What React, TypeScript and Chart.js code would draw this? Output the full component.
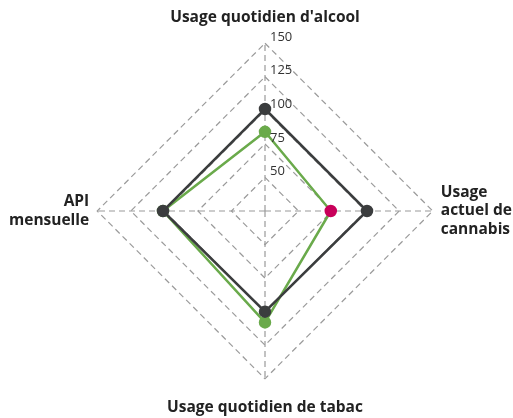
import React, { useEffect, useRef } from "react";
import { Chart, registerables } from "chart.js";

Chart.register(...registerables);

const categories: (string | string[])[] = [
  "Usage quotidien d'alcool",
  ["Usage", "actuel de", "cannabis"],
  "Usage quotidien de tabac",
  ["API", "mensuelle"],
];
const referenceValues = [101, 101, 100, 101];
const countryValues = [84, 74, 108, 101];
const countryPointColors = ["#6aaa4b", "#c8005a", "#6aaa4b", "#6aaa4b"];
const scaleMin = 25;
const scaleMax = 150;
const scaleStep = 25;

const tickLabelPlugin = {
  id: "tickLabelsRight",
  afterDraw(chart: any) {
    const scale = chart.scales.r;
    const ctx = chart.ctx;
    ctx.save();
    ctx.font = "13px 'Open Sans'";
    ctx.fillStyle = "#333";
    ctx.textAlign = "left";
    ctx.textBaseline = "middle";
    scale.ticks.forEach((t: any, i: number) => {
      if (i === 0) return;
      const d = scale.getDistanceFromCenterForValue(t.value);
      ctx.fillText(String(t.value), scale.xCenter + 5, scale.yCenter - d - 6);
    });
    ctx.restore();
  },
};

export default function App() {
  const ref = useRef<HTMLCanvasElement>(null);
  useEffect(() => {
    document.body.style.margin = "0";
    const chart = new Chart(ref.current!, {
      type: "radar",
      data: {
        labels: categories as any,
        datasets: [
          {
            label: "Référence",
            data: referenceValues,
            borderColor: "#3b3d3e",
            backgroundColor: "transparent",
            pointBackgroundColor: "#3b3d3e",
            pointBorderColor: "#3b3d3e",
            borderWidth: 2.5,
            pointRadius: 5,
            fill: false,
          },
          {
            label: "Pays",
            data: countryValues,
            borderColor: "#6aaa4b",
            backgroundColor: "transparent",
            pointBackgroundColor: countryPointColors,
            pointBorderColor: countryPointColors,
            borderWidth: 2.5,
            pointRadius: 5,
            fill: false,
          },
        ],
      },
      options: {
        animation: false,
        responsive: false,
        maintainAspectRatio: false,
        layout: { padding: 0 },
        plugins: { legend: { display: false }, tooltip: { enabled: false } },
        scales: {
          r: {
            min: scaleMin,
            max: scaleMax,
            ticks: { stepSize: scaleStep, display: false },
            grid: {
              circular: false,
              color: "#9a9a9a",
              lineWidth: 1.2,
            },
            border: { dash: [6, 4] } as any,
            angleLines: {
              color: "#9a9a9a",
              lineWidth: 1.2,
              borderDash: [6, 4],
            } as any,
            pointLabels: {
              font: { family: "'Open Sans'", size: 15.5, weight: "bold", lineHeight: 1.22 },
              color: "#222",
              padding: (ctx: any) => (ctx.index === 0 ? 16 : ctx.index === 2 ? 19 : 8),
            },
          },
        },
      },
      plugins: [tickLabelPlugin],
    });
    return () => chart.destroy();
  }, []);
  return (
    <div style={{ width: 513, height: 418, position: "relative", overflow: "hidden" }}>
      <canvas
        ref={ref}
        width={513}
        height={418}
        style={{ position: "absolute", left: 4, top: 4 }}
      />
    </div>
  );
}
